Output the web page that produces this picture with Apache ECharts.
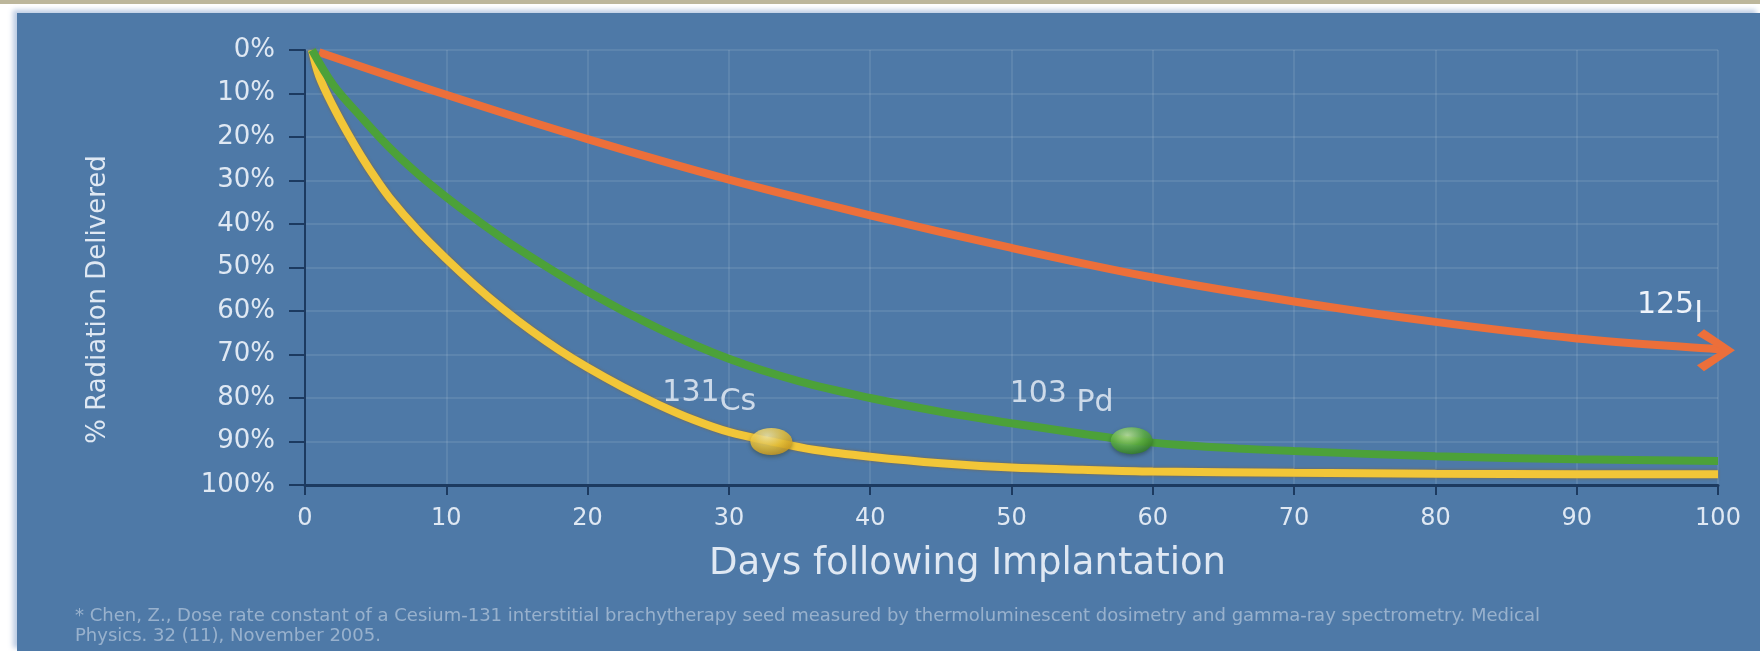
<!DOCTYPE html>
<html>
<head>
<meta charset="utf-8">
<title>% Radiation Delivered</title>
<script src="https://cdn.jsdelivr.net/npm/echarts@6/dist/echarts.min.js"></script>
<style>
  html, body { margin: 0; padding: 0; background: #fff; }
  #topband { position: absolute; left: 0; top: 0; width: 1760px; height: 4px; background: #bcb69b; }
  #panel {
    position: absolute; left: 17px; top: 13px; width: 1743px; height: 638px;
    background: #4e79a7;
    box-shadow: -4px -3px 5px rgba(170, 190, 220, 0.8);
  }
  #chart { position: absolute; left: 0; top: 0; width: 1760px; height: 651px; }
</style>
</head>
<body>
<div id="topband"></div>
<div id="panel"></div>
<div id="chart"></div>
<script>
  // values: day -> % of dose delivered
  const csDays = [0.5, 1, 2, 3, 4, 5, 6, 8, 10, 12, 14, 16, 18, 20, 22.5, 25, 27.5, 30, 33, 36, 40, 45, 50, 55, 60, 70, 80, 90, 100]
  const csPct = [0, 6, 13, 19, 24.5, 29.5, 34, 41.5, 48, 54, 59.5, 64.5, 69, 73, 77.5, 81.5, 85, 87.8, 90, 91.9, 93.5, 95, 96, 96.5, 96.9, 97.2, 97.4, 97.5, 97.5]

  const pdDays = [0.5, 2, 4, 6, 8, 10, 12, 15, 20, 25, 30, 35, 40, 45, 50, 55, 58.5, 62, 66, 70, 80, 90, 100]
  const pdPct = [0, 8, 15.5, 22.5, 28.5, 33.8, 38.7, 45.5, 55.5, 64, 71, 76.2, 80, 83.2, 85.8, 88.2, 89.8, 90.8, 91.6, 92.2, 93.4, 94.1, 94.5]

  const iDays = [1, 10, 20, 30, 40, 50, 60, 70, 80, 90, 100, 101.2]
  const iPct = [0.5, 10.3, 20.5, 29.8, 38, 45.5, 52.3, 57.8, 62.5, 66.3, 68.8, 69]

  // highlighted points on the Cs and Pd curves
  const csDot = [33, 90]
  const pdDot = [58.5, 89.8]

  const isotopeLabels = { cs: ['131', 'Cs'], pd: ['103', ' Pd'], i: ['125', 'I'] }
  const xTitle = 'Days following Implantation'
  const yTitle = '% Radiation Delivered'
  const footnote = [
    '* Chen, Z., Dose rate constant of a Cesium-131 interstitial brachytherapy seed measured by thermoluminescent dosimetry and gamma-ray spectrometry. Medical',
    'Physics. 32 (11), November 2005.'
  ]

  const pairs = (xs, ys) => xs.map((x, i) => [x, ys[i]])

  const font = 'DejaVu Sans'
  const textColor = '#dfe8f3'
  const axisDark = '#1c3a60'

  // open chevron for the end of the 125I curve
  const chevron = 'path://M7,0 L38,21 L7,42 L0,36 L25,21 L0,6 Z'

  const isoRich = {
    m: { fontSize: 30, fontFamily: font, color: '#eef3fa', verticalAlign: 'bottom', padding: [0, 0, 9, 0] },
    e: { fontSize: 30, fontFamily: font, color: '#eef3fa', verticalAlign: 'bottom' }
  }
  const isoText = (pair) => `{m|${pair[0]}}{e|${pair[1]}}`

  const dotGradient = (light, mid, dark) => new echarts.graphic.RadialGradient(0.4, 0.3, 0.75, [
    { offset: 0, color: light },
    { offset: 0.55, color: mid },
    { offset: 1, color: dark }
  ])

  const iData = pairs(iDays, iPct)
  const last = iData.pop()
  iData.push({
    value: last,
    symbol: chevron,
    symbolSize: [38, 42],
    symbolOffset: [-19, 0],
    itemStyle: { color: '#ec6f3a' },
    label: {
      show: true,
      position: 'inside',
      offset: [-46, -40],
      formatter: isoText(isotopeLabels.i),
      rich: isoRich
    }
  })

  const chart = echarts.init(document.getElementById('chart'))

  const curve = {
    type: 'line',
    smooth: 0.35,
    symbol: 'none'
  }

  const option = {
    backgroundColor: 'transparent',
    animation: false,
    textStyle: { fontFamily: font },
    title: {
      text: footnote.join('\n'),
      left: 70,
      top: 601,
      textStyle: { fontSize: 18, fontWeight: 'normal', fontFamily: font, color: 'rgba(226,233,243,0.5)', lineHeight: 20 }
    },
    grid: { left: 305, right: 42, top: 50, bottom: 166 },
    xAxis: {
      type: 'value',
      min: 0,
      max: 100,
      interval: 10,
      name: xTitle,
      nameLocation: 'middle',
      nameGap: 61,
      nameTextStyle: { fontSize: 37, color: textColor, fontFamily: font, padding: [0, 88, 0, 0] },
      axisLine: { show: true, onZero: false, lineStyle: { color: axisDark, width: 3 } },
      axisTick: { show: true, length: 10, lineStyle: { color: axisDark, width: 2 } },
      axisLabel: { fontSize: 24, color: textColor, margin: 22 },
      splitLine: { show: true, lineStyle: { color: 'rgba(255,255,255,0.12)', width: 1.5 } }
    },
    yAxis: {
      type: 'value',
      inverse: true,
      min: 0,
      max: 100,
      interval: 10,
      name: yTitle,
      nameLocation: 'middle',
      nameRotate: 90,
      nameGap: 194,
      nameTextStyle: { fontSize: 26, color: textColor, fontFamily: font, padding: [0, 64, 0, 0] },
      axisLine: { show: true, onZero: false, lineStyle: { color: axisDark, width: 2 } },
      axisTick: { show: true, length: 16, lineStyle: { color: axisDark, width: 2 } },
      axisLabel: { fontSize: 26, color: textColor, margin: 30, formatter: '{value}%' },
      splitLine: { show: true, lineStyle: { color: 'rgba(255,255,255,0.12)', width: 1.5 } }
    },
    series: [
      {
        ...curve,
        name: '125I',
        clip: false,
        data: iData,
        lineStyle: { color: '#ec6f3a', width: 8 },
        z: 2
      },
      {
        ...curve,
        name: '131Cs',
        data: pairs(csDays, csPct),
        lineStyle: { color: '#f2c638', width: 8, shadowColor: 'rgba(150,95,20,0.7)', shadowBlur: 3 },
        z: 3
      },
      {
        ...curve,
        name: '103Pd',
        data: pairs(pdDays, pdPct),
        lineStyle: { color: '#4ca139', width: 8 },
        z: 4
      },
      {
        name: '131Cs point',
        type: 'scatter',
        symbol: 'circle',
        symbolSize: [42, 27],
        data: [csDot],
        itemStyle: {
          color: dotGradient('#fff3b0', '#f2c83a', '#c9951a'),
          shadowColor: 'rgba(40,50,20,0.5)', shadowBlur: 4, shadowOffsetY: 2
        },
        label: {
          show: true,
          position: 'inside',
          offset: [-62, -44],
          formatter: isoText(isotopeLabels.cs),
          rich: isoRich
        },
        z: 6
      },
      {
        name: '103Pd point',
        type: 'scatter',
        symbol: 'circle',
        symbolSize: [42, 27],
        data: [pdDot],
        itemStyle: {
          color: dotGradient('#c8f0a0', '#5fb540', '#2f7a22'),
          shadowColor: 'rgba(20,40,20,0.5)', shadowBlur: 4, shadowOffsetY: 2
        },
        label: {
          show: true,
          position: 'inside',
          offset: [-70, -42],
          formatter: isoText(isotopeLabels.pd),
          rich: isoRich
        },
        z: 6
      }
    ]
  }

  chart.setOption(option)
</script>
</body>
</html>
